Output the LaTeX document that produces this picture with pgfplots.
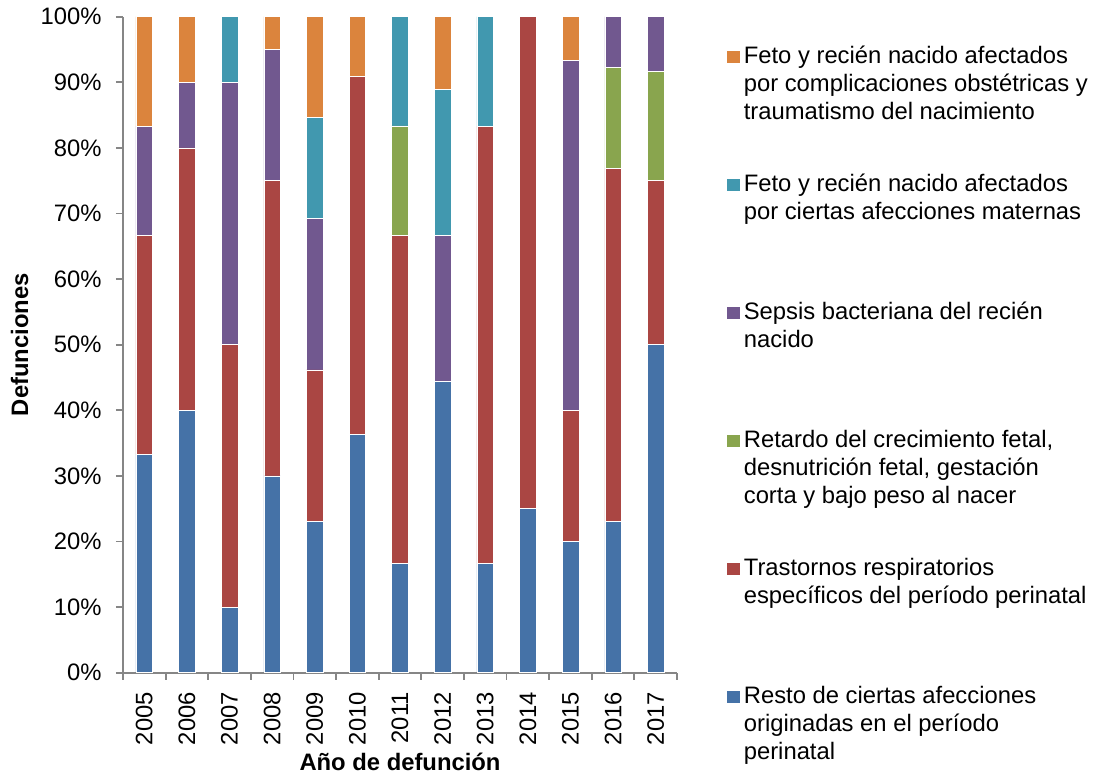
\documentclass[border=0pt]{standalone}
\usepackage{fontspec}
\setmainfont{Liberation Sans}
\usepackage{pgfplots}
\usepackage{pgfplotstable}
\pgfplotsset{compat=1.18}
\definecolor{cblue}{HTML}{4572A7}
\definecolor{cred}{HTML}{AA4643}
\definecolor{cgreen}{HTML}{89A54E}
\definecolor{cpurple}{HTML}{71588F}
\definecolor{cteal}{HTML}{4198AF}
\definecolor{corange}{HTML}{DB843D}
\definecolor{axisgray}{HTML}{868686}
\pgfplotstableread{
x blue red green purple teal orange
0 33.33 33.33 0 16.67 0 16.67
1 40 40 0 10 0 10
2 10 40 0 40 10 0
3 30 45 0 20 0 5
4 23.08 23.08 0 23.08 15.38 15.38
5 36.36 54.55 0 0 0 9.09
6 16.67 50 16.67 0 16.67 0
7 44.44 0 0 22.22 22.22 11.12
8 16.67 66.66 0 0 16.67 0
9 25 75 0 0 0 0
10 20 20 0 53.33 0 6.67
11 23.08 53.85 15.38 7.69 0 0
12 50 25 16.67 8.33 0 0
}\data
\newcommand\lent[1]{\parbox[t][64pt][t]{180pt}{\raggedright\strut #1}}
\newcommand\lentlast[1]{\parbox[t]{180pt}{\raggedright\strut #1}}
\begin{document}
\fontsize{11.9}{14}\selectfont
\begin{tikzpicture}
\begin{axis}[
  scale only axis, width=277pt, height=328pt,
  ybar stacked, bar width=0.39,
  xmin=-0.5, xmax=12.5, ymin=0, ymax=100,
  axis x line*=bottom, axis y line*=left,
  axis line style={draw=axisgray, line width=0.9pt},
  tick style={draw=axisgray, line width=0.9pt},
  tick align=outside, major tick length=3.5pt,
  xtick={-0.5,0.5,...,12.5},
  x tick label as interval,
  xticklabels={2005,2006,2007,2008,2009,2010,2011,2012,2013,2014,2015,2016,2017},
  xticklabel style={yshift=-6pt, rotate=90, anchor=east, inner sep=0pt},
  ytick={0,10,...,100},
  yticklabels={0\%,10\%,20\%,30\%,40\%,50\%,60\%,70\%,80\%,90\%,100\%},
  yticklabel style={xshift=-7pt, inner sep=0pt},
  /pgf/number format/assume math mode=true,
  ylabel={Defunciones},
  ylabel style={font=\bfseries, inner sep=6pt},
  xlabel={Año de defunción},
  xlabel style={font=\bfseries, inner sep=0pt, yshift=-4pt},
  reverse legend,
  legend style={at={(axis description cs:1.090,0.9593)}, anchor=north west,
    draw=none, fill=none, inner sep=0pt, row sep=0pt, column sep=2pt,
    cells={anchor=base west},
    nodes={inner sep=0pt, text depth={}, text height={}}},
  legend image code/.code={\fill[#1,draw=none] (0pt,0pt) rectangle (6.3pt,6.3pt);},
]
\addplot[fill=cblue, draw=white, line width=0.25pt] table[x=x,y=blue]{\data};
\addlegendentry{\lentlast{Resto de ciertas afecciones\\originadas en el período\\perinatal}}
\addplot[fill=cred, draw=white, line width=0.25pt] table[x=x,y=red]{\data};
\addlegendentry{\lent{Trastornos respiratorios\\específicos del período perinatal}}
\addplot[fill=cgreen, draw=white, line width=0.25pt] table[x=x,y=green]{\data};
\addlegendentry{\lent{Retardo del crecimiento fetal,\\desnutrición fetal, gestación\\corta y bajo peso al nacer}}
\addplot[fill=cpurple, draw=white, line width=0.25pt] table[x=x,y=purple]{\data};
\addlegendentry{\lent{Sepsis bacteriana del recién\\nacido}}
\addplot[fill=cteal, draw=white, line width=0.25pt] table[x=x,y=teal]{\data};
\addlegendentry{\lent{Feto y recién nacido afectados\\por ciertas afecciones maternas}}
\addplot[fill=corange, draw=white, line width=0.25pt] table[x=x,y=orange]{\data};
\addlegendentry{\lent{Feto y recién nacido afectados\\por complicaciones obstétricas y\\traumatismo del nacimiento}}
\coordinate (O) at (rel axis cs:0,0);
\end{axis}
\pgfresetboundingbox
\path[use as bounding box] ([shift={(-61.5pt,-51.65pt)}]O) rectangle ++(547pt,388pt);
\end{tikzpicture}
\end{document}
